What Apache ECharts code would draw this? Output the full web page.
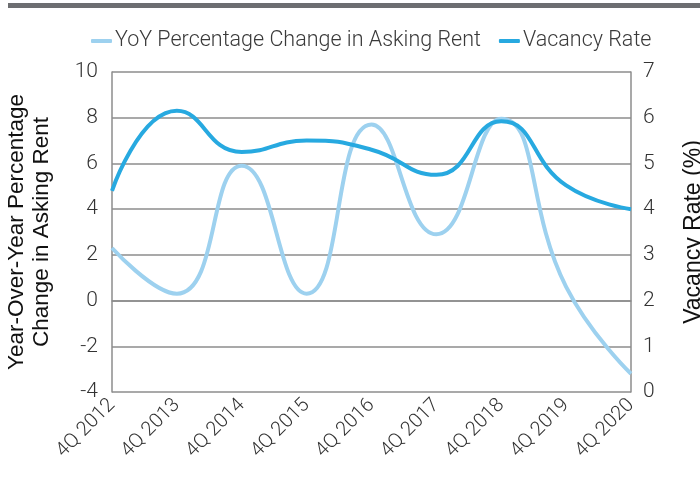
<!DOCTYPE html>
<html>
<head>
<meta charset="utf-8">
<script src="https://cdn.jsdelivr.net/npm/echarts@6/dist/echarts.min.js"></script>
<style>
  html, body { margin: 0; padding: 0; background: #fff; }
  #chart { width: 700px; height: 493px; }
</style>
</head>
<body>
<div id="chart"></div>
<script>
  // quarters on the x axis
  var quarters = ['4Q 2012', '4Q 2013', '4Q 2014', '4Q 2015', '4Q 2016', '4Q 2017', '4Q 2018', '4Q 2019', '4Q 2020'];
  // YoY % change in asking rent (left axis)
  var rentChange = [2.3, 0.3, 5.9, 0.3, 7.7, 2.9, 7.95, 0.6, -3.2];
  // vacancy rate % (right axis)
  var vacancy = [4.4, 6.15, 5.25, 5.5, 5.3, 4.75, 5.92, 4.52, 4.0];

  var lightBlue = '#9dd1ef';
  var darkBlue = '#27a9e0';
  var thin = 'Roboto';

  var chart = echarts.init(document.getElementById('chart'));
  var option = {
    animation: false,
    graphic: [{
      type: 'rect',
      shape: { x: 8, y: 3, width: 692, height: 5 },
      style: { fill: '#6d6e71' }
    }],
    legend: {
      top: 25,
      left: 86,
      itemWidth: 21,
      itemHeight: 4,
      itemGap: 18,
      icon: 'roundRect',
      textStyle: { fontFamily: thin, fontWeight: 300, fontSize: 21.5, color: '#3a3a3a', padding: [0, 0, 0, -2] },
      data: ['YoY Percentage Change in Asking Rent', 'Vacancy Rate']
    },
    grid: { left: 112, right: 69, top: 72, bottom: 101, containLabel: false, outerBoundsMode: 'none' },
    xAxis: {
      type: 'category',
      boundaryGap: false,
      data: quarters,
      axisLine: { lineStyle: { color: '#8c8c8c', width: 1.5 } },
      axisTick: { show: false },
      axisLabel: { rotate: 45, margin: 10, fontFamily: thin, fontWeight: 300, fontSize: 20, color: '#333' }
    },
    yAxis: [{
      type: 'value',
      min: -4,
      max: 10,
      interval: 2,
      name: 'Year-Over-Year Percentage\nChange in Asking Rent',
      nameLocation: 'middle',
      nameGap: 58,
      nameTextStyle: { fontFamily: 'Liberation Sans', fontSize: 22.5, color: '#111', lineHeight: 25 },
      axisLine: { show: true, lineStyle: { color: '#8c8c8c', width: 1.5 } },
      axisTick: { show: false },
      axisLabel: { margin: 14, fontFamily: thin, fontWeight: 300, fontSize: 21, color: '#333' },
      splitLine: { lineStyle: { color: '#8c8c8c', width: 1.5 } }
    }, {
      type: 'value',
      min: 0,
      max: 7,
      interval: 1,
      name: 'Vacancy Rate (%)',
      nameLocation: 'middle',
      nameGap: 51,
      nameTextStyle: { fontFamily: 'Liberation Sans', fontSize: 23, color: '#111' },
      axisLine: { show: true, lineStyle: { color: '#8c8c8c', width: 1.5 } },
      axisTick: { show: false },
      axisLabel: { margin: 12, fontFamily: thin, fontWeight: 300, fontSize: 21, color: '#333' },
      splitLine: { show: false }
    }],
    series: [{
      name: 'YoY Percentage Change in Asking Rent',
      type: 'line',
      yAxisIndex: 0,
      data: rentChange,
      smooth: 0.5,
      showSymbol: false,
      color: lightBlue,
      lineStyle: { width: 4, color: lightBlue }
    }, {
      name: 'Vacancy Rate',
      type: 'line',
      yAxisIndex: 1,
      data: vacancy,
      smooth: 0.5,
      showSymbol: false,
      color: darkBlue,
      lineStyle: { width: 4, color: darkBlue }
    }]
  };
  chart.setOption(option);
</script>
</body>
</html>
